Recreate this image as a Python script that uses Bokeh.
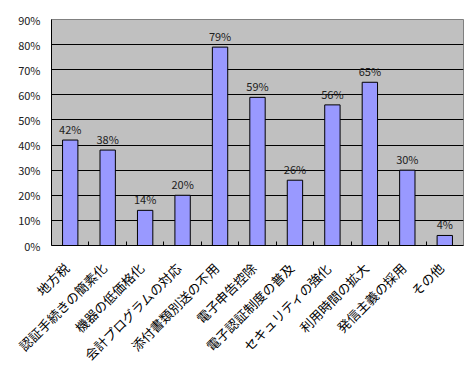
from math import pi
from bokeh.plotting import figure
from bokeh.models import ColumnDataSource, FixedTicker, PrintfTickFormatter, Range1d
from bokeh.core.properties import value
from bokeh.embed import file_html
from bokeh.resources import INLINE

categories = ["地方税", "認証手続きの簡素化", "機器の低価格化", "会計プログラムの対応",
              "添付書類別送の不用", "電子申告控除", "電子認証制度の普及", "セキュリティの強化",
              "利用時間の拡大", "発信主義の採用", "その他"]
values = [42, 38, 14, 20, 79, 59, 26, 56, 65, 30, 4]
y_ticks = [0, 10, 20, 30, 40, 50, 60, 70, 80, 90]

xs = [i + 0.5 for i in range(len(categories))]
label_pos = [x - 0.1 for x in xs]
src = ColumnDataSource(dict(x=xs, top=values, label=[f"{v}%" for v in values]))

p = figure(width=471, height=375, output_backend="svg", toolbar_location=None,
           x_range=Range1d(0, len(categories)), y_range=Range1d(0, 90),
           min_border_left=51, min_border_right=8, min_border_top=19, min_border_bottom=130)
p.background_fill_color = "#C0C0C0"
p.border_fill_color = "white"
p.outline_line_color = "#808080"
p.outline_line_width = 1

p.vbar(x="x", top="top", width=0.41, bottom=0, source=src,
       fill_color="#9999FF", line_color="black", line_width=1)
p.text(x="x", y="top", text="label", source=src, text_align="center", text_baseline="bottom",
       y_offset=-3, text_font=value("Noto Sans CJK JP"), text_font_size="11px", text_color="#202020")

# axes
p.yaxis.ticker = FixedTicker(ticks=y_ticks)
p.yaxis.formatter = PrintfTickFormatter(format="%d%%")
p.yaxis.major_tick_in = 0
p.yaxis.major_tick_out = 0
p.yaxis.minor_tick_in = 0
p.yaxis.minor_tick_out = 0
p.yaxis.axis_line_color = "black"
p.yaxis.major_label_standoff = 11
p.yaxis.major_label_text_font = "Noto Sans CJK JP"
p.yaxis.major_label_text_font_size = "11px"
p.yaxis.major_label_text_color = "#202020"

p.xaxis.ticker = FixedTicker(ticks=label_pos, minor_ticks=list(range(1, len(categories))))
p.xaxis.major_label_overrides = {x: c for x, c in zip(label_pos, categories)}
p.xaxis.major_label_orientation = pi / 4
p.xaxis.major_tick_in = 0
p.xaxis.major_tick_out = 0
p.xaxis.minor_tick_in = 4
p.xaxis.minor_tick_out = 0
p.xaxis.minor_tick_line_color = "black"
p.xaxis.axis_line_color = "black"
p.xaxis.major_label_standoff = 20
p.xaxis.major_label_text_font = "Noto Sans CJK JP"
p.xaxis.major_label_text_font_size = "13px"
p.xaxis.major_label_text_color = "black"

p.xgrid.visible = False
p.ygrid.ticker = FixedTicker(ticks=y_ticks)
p.ygrid.grid_line_color = "black"
p.ygrid.grid_line_width = 1

open("out.html", "w").write(file_html(p, INLINE))
